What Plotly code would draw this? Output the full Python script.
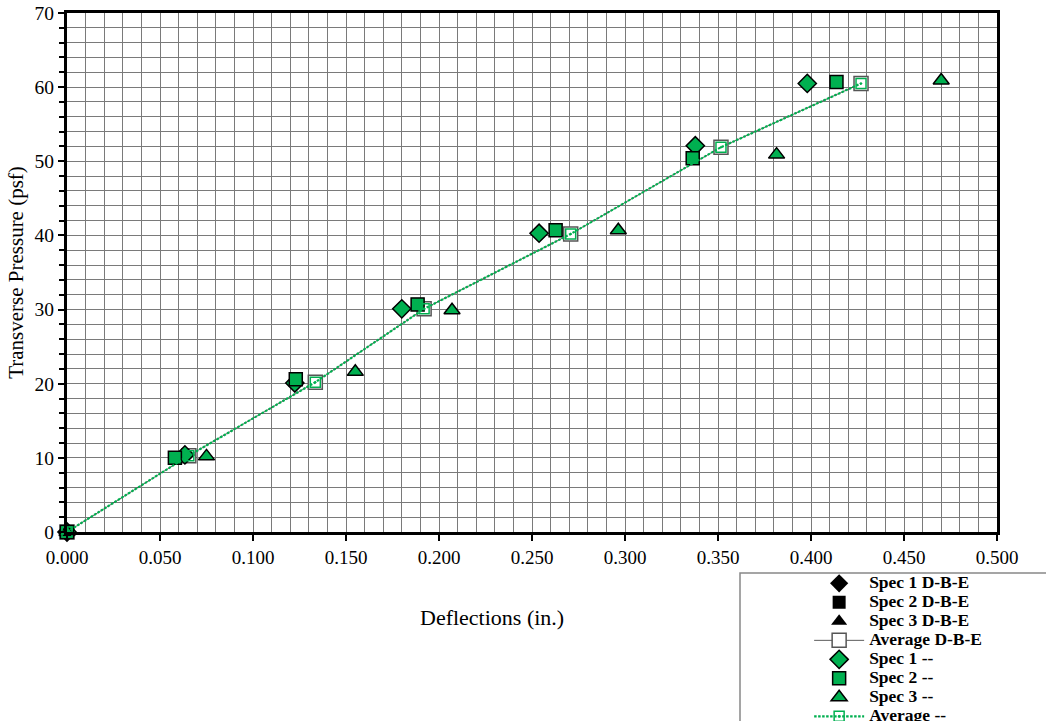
import plotly.graph_objects as go

# Data
pressure_s1 = [0, 10.4, 20.1, 30.1, 40.3, 52.1, 60.5]
defl_s1 = [0, 0.0634, 0.1225, 0.180, 0.2538, 0.3378, 0.398]
pressure_s2 = [0, 10.0, 20.6, 30.7, 40.7, 50.4, 60.7]
defl_s2 = [0, 0.058, 0.123, 0.1885, 0.2627, 0.3364, 0.4137]
pressure_s3 = [0, 10.2, 21.6, 29.9, 40.7, 50.9, 60.9]
defl_s3 = [0, 0.075, 0.155, 0.207, 0.2964, 0.3815, 0.470]
pressure_avg = [0, 10.3, 20.2, 30.1, 40.2, 51.9, 60.5]
defl_avg = [0, 0.0655, 0.1335, 0.192, 0.2708, 0.3516, 0.4269]

series_names = ["Spec 1 D-B-E", "Spec 2 D-B-E", "Spec 3 D-B-E", "Average D-B-E",
                "Spec 1 --", "Spec 2 --", "Spec 3 --", "Average --"]

GREEN = "#00B050"
FONT = "Liberation Serif"


def lg(name):
    return "<span style='font-size:17.5px'><b>" + name + "</b></span>"


fig = go.Figure()

# D-B-E series (black)
fig.add_trace(go.Scatter(x=defl_s1, y=pressure_s1, mode="markers", name=lg(series_names[0]),
                         cliponaxis=False,
                         marker=dict(symbol="diamond", size=14, color="black")))
fig.add_trace(go.Scatter(x=defl_s2, y=pressure_s2, mode="markers", name=lg(series_names[1]),
                         cliponaxis=False,
                         marker=dict(symbol="square", size=13, color="black")))
fig.add_trace(go.Scatter(x=defl_s3, y=pressure_s3, mode="markers", name=lg(series_names[2]),
                         cliponaxis=False,
                         marker=dict(symbol="triangle-up", size=14, color="black")))
fig.add_trace(go.Scatter(x=defl_avg, y=pressure_avg, mode="lines+markers", name=lg(series_names[3]),
                         cliponaxis=False,
                         line=dict(color="#333333", width=0.8),
                         marker=dict(symbol="square", size=14, color="white",
                                     line=dict(color="#555555", width=1.5))))
# -- series (green)
fig.add_trace(go.Scatter(x=defl_s1, y=pressure_s1, mode="markers", name=lg(series_names[4]),
                         cliponaxis=False,
                         marker=dict(symbol="diamond", size=14, color=GREEN,
                                     line=dict(color="black", width=1.5))))
fig.add_trace(go.Scatter(x=defl_s2, y=pressure_s2, mode="markers", name=lg(series_names[5]),
                         cliponaxis=False,
                         marker=dict(symbol="square", size=13, color=GREEN,
                                     line=dict(color="black", width=1.5))))
fig.add_trace(go.Scatter(x=defl_s3, y=pressure_s3, mode="markers", name=lg(series_names[6]),
                         cliponaxis=False,
                         marker=dict(symbol="triangle-up", size=14, color=GREEN,
                                     line=dict(color="black", width=1.5))))
fig.add_trace(go.Scatter(x=defl_avg, y=pressure_avg, mode="lines+markers", name=lg(series_names[7]),
                         cliponaxis=False,
                         line=dict(color=GREEN, width=2.2, dash="2.5px,1.5px"),
                         marker=dict(symbol="square-open-dot", size=10, color=GREEN,
                                     line=dict(color=GREEN, width=1.5))))

grid_color = "#7a7a7a"
fig.update_layout(
    width=1046, height=721,
    margin=dict(l=67, r=49, t=13, b=189, autoexpand=False),
    paper_bgcolor="white", plot_bgcolor="white",
    font=dict(family=FONT, size=19, color="black"),
    showlegend=True,
    legend=dict(x=0.798, y=-0.071, xanchor="left", yanchor="top",
                bgcolor="rgba(0,0,0,0)", borderwidth=0,
                font=dict(family=FONT, size=12, color="black"),
                tracegroupgap=0, itemwidth=50),
    xaxis=dict(range=[0, 0.5], dtick=0.05, tick0=0, tickformat=".3f",
               showline=True, linecolor="black", linewidth=2.5, mirror=True,
               ticks="outside", ticklen=6, tickwidth=1.5, tickcolor="black",
               showgrid=True, gridcolor=grid_color, gridwidth=1,
               minor=dict(dtick=0.01, showgrid=True, gridcolor=grid_color, gridwidth=1),
               zeroline=False, tickfont=dict(family=FONT, size=19),
               ticklabeloverflow="allow"),
    yaxis=dict(range=[0, 70], dtick=10, tick0=0,
               showline=True, linecolor="black", linewidth=3, mirror=True,
               ticks="outside", ticklen=6, tickwidth=1.5, tickcolor="black",
               showgrid=True, gridcolor=grid_color, gridwidth=1,
               minor=dict(dtick=2, showgrid=True, gridcolor=grid_color, gridwidth=1,
                          ticks="outside", ticklen=5, tickwidth=1.5, tickcolor="black"),
               zeroline=False, tickfont=dict(family=FONT, size=19.5),
               ticklabeloverflow="allow",
               title=dict(text="Transverse Pressure (psf)", font=dict(family=FONT, size=21),
                          standoff=6)),
    annotations=[dict(text="Deflections (in.)", xref="paper", yref="paper",
                      x=0.457, y=-0.1657, xanchor="center", yanchor="middle",
                      showarrow=False, font=dict(family=FONT, size=22))],
    shapes=[dict(type="rect", xref="paper", yref="paper",
                 x0=(740 - 67) / 930, x1=(1060 - 67) / 930,
                 y0=(532 - 573) / 519, y1=(532 - 740) / 519,
                 line=dict(color="#888888", width=1.5), fillcolor="rgba(0,0,0,0)")],
)

# remove the browser's default 8px body margin so the figure fills the window
fig.write_html("out.html", config={"displayModeBar": False},
               post_script="document.body.style.margin='0';")
